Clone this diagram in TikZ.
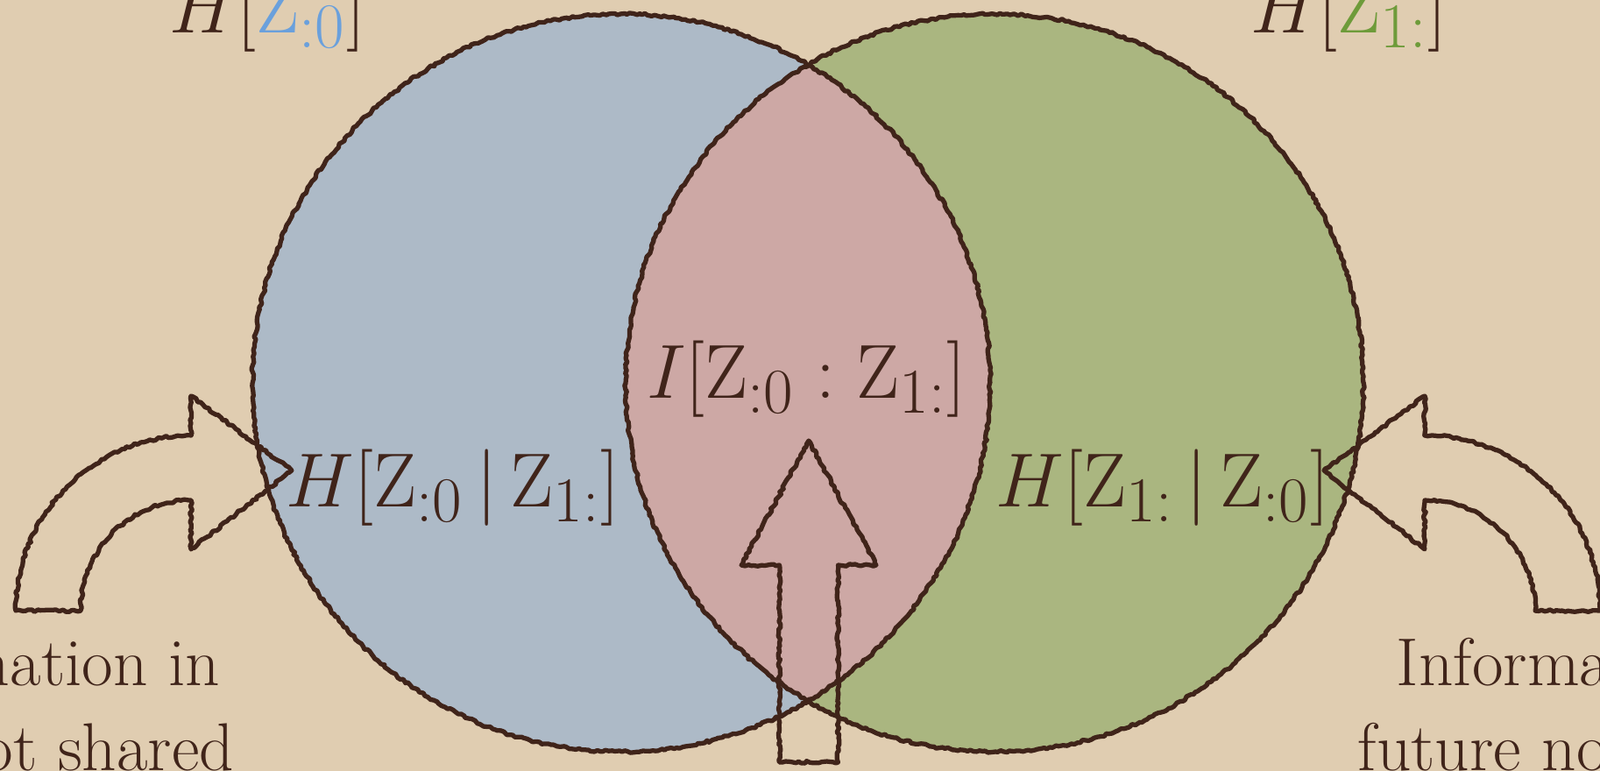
\documentclass[tikz,border=0pt]{standalone}
\usepackage{amsmath}
\usetikzlibrary{positioning, calc, decorations.pathmorphing}
\definecolor{paper}{HTML}{E0CDB1}
\definecolor{pastblue}{HTML}{ADBAC7}
\definecolor{futgreen}{HTML}{AAB680}
\definecolor{sharedpink}{HTML}{CDA8A5}
\definecolor{ink}{HTML}{40241A}
\definecolor{labelblue}{HTML}{6AA0DC}
\definecolor{labelgreen}{HTML}{6E9B3A}

\begin{document}
\begin{tikzpicture}[
      sketch/.style={draw=ink, line width=1.5pt, line join=round, decorate, decoration={random steps, segment length=1pt, amplitude=0.4pt}},
      entropy/.style={text=ink, font=\Huge, inner sep=0pt, anchor=base},
      caption/.style={text=ink, font=\fontsize{22}{28}\selectfont, inner sep=0pt, anchor=base}
  ]
    \useasboundingbox (0,0) rectangle (18.26,8.80);
    \clip (0,0) rectangle (18.26,8.80);
    \fill[paper] (0,0) rectangle (18.26,8.80);

    \coordinate (pastc) at (7.09,4.43);
    \coordinate (futc) at (11.35,4.43);

    % the two entropies and their overlap
    \fill[pastblue] (pastc) circle (4.21);
    \fill[futgreen] (futc) circle (4.21);
    \begin{scope}
      \clip (pastc) circle (4.21);
      \fill[sharedpink] (futc) circle (4.21);
    \end{scope}
    \draw[sketch] (pastc) circle (4.21);
    \draw[sketch] (futc) circle (4.21);

    \node[entropy] (hpast) at (3.05,8.42) {$H[\textcolor{labelblue}{\mathrm{Z}_{:0}}]$};
    \node[entropy] (hfut) at (15.39,8.42) {$H[\textcolor{labelgreen}{\mathrm{Z}_{1:}}]$};
    \node[entropy] (condpast) at (5.17,3.01) {$H[\mathrm{Z}_{:0}\,|\,\mathrm{Z}_{1:}]$};
    \node[entropy] (condfut) at (13.27,3.01) {$H[\mathrm{Z}_{1:}\,|\,\mathrm{Z}_{:0}]$};
    \node[entropy] (mutual) at (9.20,4.25) {$I[\mathrm{Z}_{:0} : \mathrm{Z}_{1:}]$};

    \node[caption] (pastcap) at (0.27,0.97) {Information in};
    \node[caption] (pastcapb) at ($(pastcap.base)+(0,-0.97)$) {past not shared};
    \node[caption] (futcap) at (18.18,0.97) {Information in};
    \node[caption] (futcapb) at ($(futcap.base)+(0,-0.97)$) {future not shared};

    % block arrows
    \draw[sketch] (0.18,1.83) arc[start angle=180, end angle=90, radius=2.0] -- (2.18,4.28) -- (3.33,3.43) -- (2.18,2.53) -- (2.18,3.09) arc[start angle=90, end angle=180, radius=1.26] -- cycle;
    \draw[sketch] (18.26,1.83) arc[start angle=0, end angle=90, radius=2.0] -- (16.26,4.28) -- (15.11,3.43) -- (16.26,2.53) -- (16.26,3.09) arc[start angle=90, end angle=0, radius=1.26] -- cycle;
    \draw[sketch] (8.895,0.10) -- (8.895,2.35) -- (8.46,2.35) -- (9.23,3.77) -- (10.0,2.35) -- (9.565,2.35) -- (9.565,0.10) -- cycle;
  \end{tikzpicture}
\end{document}
